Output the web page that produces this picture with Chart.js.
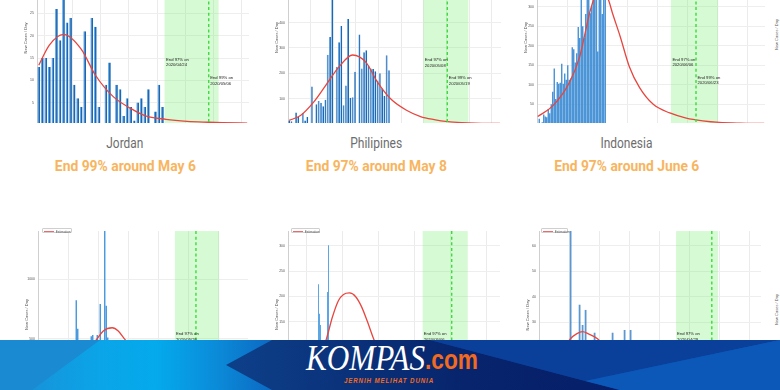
<!DOCTYPE html>
<html><head><meta charset="utf-8">
<script src="https://cdn.jsdelivr.net/npm/chart.js@4.4.1/dist/chart.umd.min.js"></script>
<style>
*{box-sizing:border-box}
html,body{margin:0;padding:0;background:#fff}
body{width:780px;height:390px;overflow:hidden;position:relative}
.clip{position:absolute;overflow:hidden}
.clip canvas{position:absolute}
.lbl{position:absolute;white-space:nowrap;text-align:center;width:240px}
.lbl span{display:inline-block;transform-origin:50% 50%}
.country{font-family:Roboto,'Liberation Sans',sans-serif;font-size:14px;line-height:14px;color:#6d6d6d}
.head{font-family:Roboto,'Liberation Sans',sans-serif;font-weight:700;font-size:15px;line-height:15px;color:#f8b560}
.legend{position:absolute;height:5px;border:0.5px solid #cfcfcf;border-radius:1px;background:#fff;z-index:3}
.legend i{position:absolute;left:1.5px;top:2px;width:10px;height:1px;background:#ee6a6a}
.legend b{position:absolute;left:13px;top:0.5px;font:3.2px 'Liberation Sans',sans-serif;line-height:4px;color:#555;font-weight:normal;white-space:nowrap}
.vt{position:absolute;font:4px 'Liberation Sans',sans-serif;line-height:4px;color:#555;transform:rotate(-90deg);white-space:nowrap;transform-origin:0 0}
#banner{position:absolute;left:0;top:340px;width:780px;height:50px;overflow:hidden;z-index:10;
 background:linear-gradient(90deg,#1d8bd3 0%,#0aa5e8 13%,#04aaec 20%,#0b8ad8 28%,#0c68c2 35%,#0a469e 46%,#0b3f98 70%,#0b4fae 85%,#0b5cbd 100%)}
#banner .p{position:absolute;left:0;top:0;width:780px;height:50px}
#banner .p1{clip-path:polygon(0 0,100px 0,32px 50px,0 50px);background:#1a8ad2}
#banner .p2{clip-path:polygon(226px 25px,272px 0,430px 0,620px 50px,272px 50px);background:linear-gradient(90deg,#0d3f88 30%,#07246c 60%,#061f68 80%)}
#banner .p3{clip-path:polygon(430px 0,780px 0,585px 41px);background:#0a3f9a}
#banner .p4{clip-path:polygon(585px 41px,780px 0,780px 50px,620px 50px);background:#0b58b8}
#banner .t{position:absolute;white-space:nowrap;transform-origin:0 0}
#banner .k{left:306px;top:0.7px;font-family:'Liberation Serif',serif;font-style:italic;font-size:35px;line-height:35px;color:#fff}
#banner .c{left:425px;top:7px;font-family:'Liberation Sans',sans-serif;font-weight:700;font-size:27px;line-height:27px;color:#f26a21}
#banner .g{left:344px;top:37px;font-family:'Liberation Sans',sans-serif;font-weight:700;font-style:italic;font-size:7px;line-height:7px;letter-spacing:1px;color:#f26a21}
</style>
</head>
<body>
<script>
Chart.defaults.font.family = "'Liberation Sans', Arial, sans-serif";

// ---------------- data ----------------
const countries = ['Jordan', 'Philipines', 'Indonesia'];
const headlines = ['End 99% around May 6', 'End 97% around May 8', 'End 97% around June 6'];
const end97Dates = ['2020/04/24', '2020/05/08', '2020/06/06', '2020/05/26', '2020/05/06', '2020/04/29'];
const end99Dates = ['2020/05/06', '2020/05/19', '2020/06/23'];

const jordanTicks = [5, 10, 15, 20, 25, 30, 35];
const jordanCases = [13,15,15,13,15,26,19,30,23,24,9,6,4,21,0,24,22,4,0,9,14,0,9,8,2,6,4,1,5,6,4,8,0,3,9,4];
const jordanFitDays = [0,3,7,12,16,21,26,30,36,42,48,52,59];
const jordanFitValues = [13.4,17.9,20.3,17,11.2,6.4,3.7,2.1,1.25,0.8,0.6,0.5,0.4];

const philTicks = [100, 200, 300, 400, 500, 600];
const philCases = [13,10,5,45,27,3,43,13,27,0,148,0,78,90,83,70,95,273,343,520,0,226,322,386,74,152,414,103,105,206,0,353,219,283,291,230,219,217,208,171,200,140,110,271,212];
const philFitDays = [0,5,11,16,22,28,34,39,45,52,58,64,70,76,82,93];
const philFitValues = [14,33,88,150,225,272,242,165,97,53,29,17,9,5,3,1.5];

const indoTicks = [50, 100, 150, 200, 250, 300, 350, 400];
const indoCases = [0,13,0,4,24,19,17,38,27,50,82,142,64,107,103,105,154,103,129,113,150,113,116,196,191,157,181,248,220,337,250,221,281,349,360,283,300,370,337,399,185,330,390,281,375,410];
const indoFitDays = [0,10,21,28,32,35,41,47,50,55,61,68,77,88,99,110,121,135,151];
const indoFitValues = [19,46,105,172,240,290,345,318,281,223,147,92,50,28,15,8,4,2,1];

const lowerLeftTicks = [500, 1000];
const lowerLeftCases = [0,0,2,1,3,0,5,4,8,6,10,12,9,15,20,18,25,30,28,40,35,60,80,120,200,825,583,300,250,180,220,150,260,310,400,520,530,380,380,530,420,792,350,480,1500,777,510];
const lowerLeftFitDays = [0,8,21,31,39,43,49,53,57,67,81,101,120,139];
const lowerLeftFitValues = [20,60,200,380,500,565,592,565,500,350,150,40,10,2];

const lowerMidTicks = [100, 150, 200, 250, 300];
const lowerMidCases = [0,0,0,1,0,2,3,1,5,4,8,6,10,12,9,15,20,18,14,25,22,30,28,35,40,38,45,50,60,70,224,166,144,90,80,75,100,85,95,209,301,110,95,88,102,97];
const lowerMidFitDays = [0,10,25,38,44,50,55,61,67,73,79,85,100,120,150,211];
const lowerMidFitValues = [5,15,50,117,160,192,204,207,200,180,150,117,50,15,3,0.5];

const lowerRightTicks = [20, 30, 40, 50, 60];
const lowerRightCases = [0,0,1,0,2,1,3,5,2,4,70,8,12,37,29,35,15,10,26,14,9,12,8,11,26,7,10,6,27,9,27,5,8];
const lowerRightFitDays = [0,5,10,12,14,16,19,25,35,50,73];
const lowerRightFitValues = [6,15,23.6,25.5,26.4,25.5,23.6,15,5,1,0.2];

// ---------------- helpers ----------------
function zonePlugin(z, canvasTop) {
  return {
    id: 'zones',
    beforeDatasetsDraw(chart) {
      const {ctx, chartArea: a, scales: {x}} = chart;
      const x0 = x.getPixelForValue(z.start), x1 = x.getPixelForValue(z.end);
      ctx.save();
      ctx.fillStyle = 'rgba(120,240,110,0.30)';
      ctx.fillRect(x0, a.top, x1 - x0, a.bottom - a.top);
      ctx.restore();
    },
    afterDatasetsDraw(chart) {
      const {ctx, chartArea: a, scales: {x}} = chart;
      const xd = x.getPixelForValue(z.dash);
      ctx.save();
      ctx.strokeStyle = '#3cdc3c'; ctx.lineWidth = 1.4; ctx.setLineDash([3, 2.6]);
      ctx.beginPath(); ctx.moveTo(xd, a.top); ctx.lineTo(xd, a.bottom); ctx.stroke();
      ctx.setLineDash([]);
      ctx.fillStyle = '#222';
      ctx.font = "4.2px 'Liberation Sans', Arial, sans-serif";
      ctx.textBaseline = 'middle';
      z.notes.forEach(n => {
        const px = x.getPixelForValue(n.at) + n.dx;
        n.lines.forEach((t, k) => ctx.fillText(t, px, n.y - canvasTop + k * 5.1));
      });
      ctx.restore();
    }
  };
}

function panel(p) {
  const [L, T, R, B] = p.area;
  const AX = 16, PAD = 4;
  const cl = Math.round(L - AX - PAD), ct = Math.round(T - PAD);
  const cw = Math.round(R + PAD) - cl, ch = Math.round(B + PAD) - ct;
  const clip = document.createElement('div');
  clip.className = 'clip';
  Object.assign(clip.style, {left: p.clip[0] + 'px', top: p.clip[1] + 'px', width: p.clip[2] + 'px', height: p.clip[3] + 'px'});
  const cv = document.createElement('canvas');
  cv.width = cw; cv.height = ch;
  Object.assign(cv.style, {left: (cl - p.clip[0]) + 'px', top: (ct - p.clip[1]) + 'px', width: cw + 'px', height: ch + 'px'});
  clip.appendChild(cv);
  document.body.appendChild(clip);

  const labels = Array.from({length: p.n}, (_, i) => 'd' + i);
  const fit = new Array(p.n).fill(null);
  p.fitDays.forEach((d, i) => { fit[d] = p.fitValues[i]; });

  new Chart(cv, {
    type: 'bar',
    data: {
      labels,
      datasets: [
        {type: 'line', data: fit, borderColor: '#e8453e', borderWidth: 1.3, pointRadius: 0,
         tension: 0.4, cubicInterpolationMode: 'monotone', spanGaps: true, order: 0},
        {type: 'bar', data: p.cases, backgroundColor: p.bar[0], borderColor: p.bar[1],
         borderWidth: {left: p.bar[3], right: 0, top: 0, bottom: 0}, borderSkipped: false,
         barPercentage: p.bar[2], categoryPercentage: 1, order: 1}
      ]
    },
    options: {
      responsive: false, animation: false, events: [],
      layout: {padding: PAD},
      plugins: {legend: {display: false}, tooltip: {enabled: false}},
      scales: {
        x: {
          ticks: {display: false},
          grid: {drawTicks: false, offset: true,
                 color: c => (c.index !== undefined && (c.index - p.grid[1]) % p.grid[0] === 0) ? '#ebebeb' : 'rgba(0,0,0,0)'},
          border: {display: false},
          afterFit: s => { s.height = 0; }
        },
        y: {
          min: 0, max: p.yMax,
          afterBuildTicks: s => { s.ticks = p.ticks.map(v => ({value: v})); },
          ticks: {font: {size: 3.5}, color: '#555', padding: 3, callback: v => String(v)},
          grid: {drawTicks: false, color: '#eeeeee'},
          border: {color: '#cfcfcf'},
          title: {display: true, text: 'New Cases / Day', font: {size: 4}, color: '#555', padding: {top: 2, bottom: 2}},
          afterFit: s => { s.width = AX; }
        }
      }
    },
    plugins: [zonePlugin(p.zone, ct)]
  });
}

// ---------------- panels ----------------
panel({clip: [0, 0, 260, 123], area: [37.4, -50, 249.2, 125.5], n: 60, yMax: 39, ticks: jordanTicks,
  cases: jordanCases, fitDays: jordanFitDays, fitValues: jordanFitValues,
  bar: ['#1a68b5', '#5fa5e2', 0.78, 1], grid: [8, 2],
  zone: {start: 35.6, end: 50.9, dash: 48.1, notes: [
    {at: 35.6, dx: 1.5, y: 60, lines: ['End 97% on', end97Dates[0]]},
    {at: 48.1, dx: 1.5, y: 78.3, lines: ['End 99% on', end99Dates[0]]}]}});

panel({clip: [260, 0, 260, 123], area: [288.2, -50, 500.6, 125.3], n: 94, yMax: 682, ticks: philTicks,
  cases: philCases, fitDays: philFitDays, fitValues: philFitValues,
  bar: ['#1a68b5', '#5fa5e2', 0.86, 0.7], grid: [10, 0],
  zone: {start: 59.2, end: 79.1, dash: 69.8, notes: [
    {at: 59.2, dx: 1.5, y: 60.3, lines: ['End 97% on', end97Dates[1]]},
    {at: 69.8, dx: 1.5, y: 78.3, lines: ['End 99% on', end99Dates[1]]}]}});

panel({clip: [520, 0, 250, 123], area: [537, -50, 765, 125], n: 152, yMax: 442, ticks: indoTicks,
  cases: indoCases, fitDays: indoFitDays, fitValues: indoFitValues,
  bar: ['#3a8bd4', '#3a8bd4', 0.88, 0], grid: [20, 0],
  zone: {start: 88.8, end: 120.2, dash: 105.5, notes: [
    {at: 88.8, dx: 1.5, y: 60, lines: ['End 97% on', end97Dates[2]]},
    {at: 105.5, dx: 1.5, y: 78, lines: ['End 99% on', end99Dates[2]]}]}});

panel({clip: [0, 224, 260, 166], area: [38, 230, 248, 399], n: 140, yMax: 1408, ticks: lowerLeftTicks,
  cases: lowerLeftCases, fitDays: lowerLeftFitDays, fitValues: lowerLeftFitValues,
  bar: ['#3d92dc', '#3d92dc', 0.9, 0], grid: [20, 0],
  zone: {start: 90.8, end: 120.2, dash: 104.8, notes: [
    {at: 90.8, dx: 1, y: 334.3, lines: ['End 97% on', end97Dates[3]]}]}});

panel({clip: [260, 224, 260, 166], area: [288.3, 230, 500.3, 399.2], n: 212, yMax: 329, ticks: lowerMidTicks,
  cases: lowerMidCases, fitDays: lowerMidFitDays, fitValues: lowerMidFitValues,
  bar: ['#4a9de2', '#4a9de2', 0.9, 0], grid: [36, 18],
  zone: {start: 134.2, end: 179.2, dash: 163.2, notes: [
    {at: 134.2, dx: 1, y: 334.3, lines: ['End 97% on', end97Dates[4]]}]}});

panel({clip: [520, 224, 250, 166], area: [539, 230, 761, 399.8], n: 74, yMax: 65.8, ticks: lowerRightTicks,
  cases: lowerRightCases, fitDays: lowerRightFitDays, fitValues: lowerRightFitValues,
  bar: ['#1a68b5', '#5fa5e2', 0.72, 1], grid: [10, 0],
  zone: {start: 45.2, end: 59.2, dash: 57.1, notes: [
    {at: 45.2, dx: 1, y: 334.3, lines: ['End 97% on', end97Dates[5]]}]}});

// ---------------- texts ----------------
function addLabel(cls, text, cx, top, w) {
  const d = document.createElement('div');
  d.className = 'lbl ' + cls;
  d.style.left = (cx - 120) + 'px'; d.style.top = top + 'px';
  const s = document.createElement('span');
  s.textContent = text; s.dataset.w = w;
  d.appendChild(s); document.body.appendChild(d);
}
const centers = [125, 376, 626.5];
const countryW = [37, 52, 52];
const headW = [141, 141, 145];
countries.forEach((c, i) => addLabel('country', c, centers[i], 136.4, countryW[i]));
headlines.forEach((h, i) => addLabel('head', h, centers[i], 158.5, headW[i]));

// legends of lower panels
[[41.7, 30], [290.7, 29.3], [540.7, 27.6]].forEach(([l, w]) => {
  const d = document.createElement('div');
  d.className = 'legend';
  d.style.left = l + 'px'; d.style.top = '228.3px'; d.style.width = w + 'px';
  d.innerHTML = '<i></i><b>Estimation</b>';
  document.body.appendChild(d);
});
// partial next-column axis titles at the right edge
[[774.6, 50], [774.6, 325]].forEach(([l, t]) => {
  const d = document.createElement('div');
  d.className = 'vt'; d.style.left = l + 'px'; d.style.top = t + 'px';
  d.textContent = 'New Cases / Day';
  document.body.appendChild(d);
});

// banner
const banner = document.createElement('div');
banner.id = 'banner';
banner.innerHTML = '<div class="p p1"></div><div class="p p2"></div><div class="p p3"></div><div class="p p4"></div>' +
  '<div class="t k" data-w="119">KOMPAS</div><div class="t c" data-w="53">.com</div>' +
  '<div class="t g" data-w="90">JERNIH MELIHAT DUNIA</div>';
document.body.appendChild(banner);

function fitWidths() {
  document.querySelectorAll('[data-w]').forEach(el => {
    el.style.transform = 'none';
    const w = el.getBoundingClientRect().width;
    if (w > 0) el.style.transform = 'scaleX(' + (parseFloat(el.dataset.w) / w) + ')';
  });
}
fitWidths();
if (document.fonts && document.fonts.ready) document.fonts.ready.then(fitWidths);
</script>
</body></html>
